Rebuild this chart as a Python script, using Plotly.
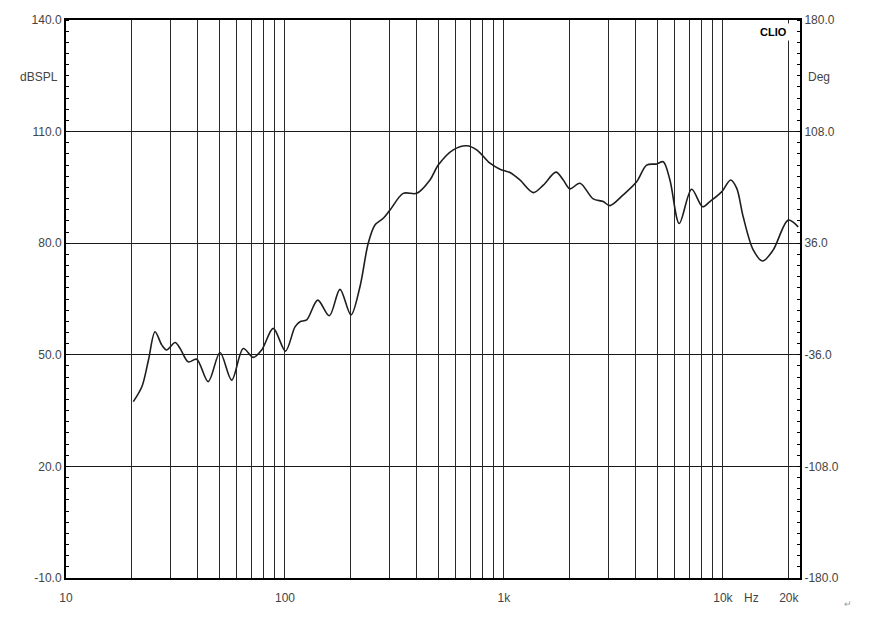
import plotly.graph_objects as go

# Frequency response (Hz, dB SPL)
freq_hz = [20.3, 22.2, 23.8, 25.5, 27.4, 28.8, 31.5, 33.2, 36.2, 39.5,
           44.6, 50.5, 57.1, 64.5, 71.7, 78.3, 88.4, 100.5, 111.1, 117.1,
           125.7, 141.1, 159.4, 178.3, 200.1, 220, 240, 257.6, 281.1, 301.7,
           346.9, 399.4, 459.3, 501, 586.8, 675.6, 750.5, 863.4, 958.7, 1065,
           1183, 1361, 1512, 1728, 1866, 2001, 2223, 2557, 2841, 3048,
           3505, 4035, 4483, 4982, 5339, 5728, 6318, 7196, 8078, 8722,
           9866, 10844, 11554, 12377, 13753, 15184, 16971, 19870, 22070]
spl_db = [37.4, 41.4, 48.6, 56.2, 52.6, 51.3, 53.3, 51.7, 48.1, 48.8,
          42.8, 50.6, 43.2, 51.7, 49.3, 51.3, 57.1, 51.0, 57.5, 58.9,
          59.4, 64.7, 60.5, 67.6, 60.7, 68.3, 80.0, 84.9, 86.7, 88.9,
          93.4, 93.4, 97.0, 101.0, 105.1, 106.2, 105.1, 101.5, 99.9, 99.0,
          97.0, 93.6, 95.6, 99.1, 97.0, 94.6, 96.1, 91.9, 91.2, 90.1,
          93.0, 96.5, 101.0, 101.3, 101.9, 97.0, 85.3, 94.5, 89.8, 91.2,
          93.8, 97.0, 94.8, 87.1, 78.2, 75.2, 78.2, 86.2, 84.4]

# Axis ticks
x_grid = [20, 30, 40, 50, 60, 70, 80, 90, 100, 200, 300, 400, 500, 600, 700, 800, 900,
          1000, 2000, 3000, 4000, 5000, 6000, 7000, 8000, 9000, 10000, 20000]
x_label_vals = [10, 100, 1000, 10000, 20000]
x_label_text = ["10", "100", "1k", "10k", "20k"]
y_left_vals = [-10, 20, 50, 80, 110, 140]
y_left_text = ["-10.0", "20.0", "50.0", "80.0", "110.0", "140.0"]
y_right_vals = [-180, -108, -36, 36, 108, 180]
y_right_text = ["-180.0", "-108.0", "-36.0", "36.0", "108.0", "180.0"]

FONT = "Liberation Sans, Arial, sans-serif"
LBL = "#444444"

fig = go.Figure()

fig.add_trace(go.Scatter(
    x=freq_hz, y=spl_db, mode="lines",
    line=dict(color="#1e1e1e", width=1.6, shape="spline", smoothing=0.9),
    hoverinfo="skip", showlegend=False, xaxis="x", yaxis="y"))

# invisible helpers to activate the right axis and the grid axis
fig.add_trace(go.Scatter(x=[20], y=[0], mode="markers", marker=dict(opacity=0),
                         showlegend=False, hoverinfo="skip", xaxis="x", yaxis="y2"))
fig.add_trace(go.Scatter(x=[20], y=[0], mode="markers", marker=dict(opacity=0),
                         showlegend=False, hoverinfo="skip", xaxis="x2", yaxis="y"))

XR = [1, 4.352]

fig.update_layout(
    width=880, height=620,
    margin=dict(l=58, r=88, t=12, b=50, autoexpand=False),
    paper_bgcolor="white", plot_bgcolor="white",
    font=dict(family=FONT, size=12, color=LBL),
    xaxis=dict(
        type="log", range=XR, automargin=False,
        tickvals=x_label_vals, ticktext=x_label_text,
        ticks="", showgrid=False, zeroline=False, ticklabelstandoff=8,
        showline=True, linecolor="black", linewidth=2, mirror=True,
        tickfont=dict(family=FONT, size=12, color=LBL),
    ),
    xaxis2=dict(
        type="log", range=XR, overlaying="x", automargin=False,
        tickvals=x_grid, showticklabels=False, ticks="",
        showgrid=True, gridcolor="#2a2a2a", gridwidth=1, zeroline=False,
        layer="below traces",
    ),
    yaxis=dict(
        range=[-10, 140], tickvals=y_left_vals, ticktext=y_left_text,
        automargin=False,
        ticks="", showgrid=True, gridcolor="#1a1a1a", gridwidth=1, zeroline=False,
        showline=True, linecolor="black", linewidth=2, mirror=True,
        minor=dict(dtick=3, tick0=-10, ticks="inside", ticklen=3,
                   tickcolor="black", tickwidth=1, showgrid=False),
        tickfont=dict(family=FONT, size=12, color=LBL),
    ),
    yaxis2=dict(
        range=[-180, 180], overlaying="y", side="right", automargin=False,
        tickvals=y_right_vals, ticktext=y_right_text,
        ticks="", showgrid=False, zeroline=False,
        showline=True, linecolor="black", linewidth=2,
        minor=dict(dtick=7.2, tick0=-180, ticks="inside", ticklen=3,
                   tickcolor="black", tickwidth=1, showgrid=False),
        tickfont=dict(family=FONT, size=12, color=LBL),
    ),
)

fig.add_annotation(text="dBSPL", xref="paper", yref="paper", x=-0.008, y=0.898,
                   xanchor="right", yanchor="middle", showarrow=False,
                   font=dict(family=FONT, size=12, color=LBL))
fig.add_annotation(text="Deg", xref="paper", yref="paper", x=1.008, y=0.898,
                   xanchor="left", yanchor="middle", showarrow=False,
                   font=dict(family=FONT, size=12, color=LBL))
fig.add_annotation(text="<b>CLIO</b>", xref="paper", yref="paper", x=0.987, y=0.994,
                   xanchor="right", yanchor="top", showarrow=False,
                   bgcolor="white", borderpad=2,
                   font=dict(family=FONT, size=11, color="black"))
fig.add_annotation(text="Hz", xref="paper", yref="paper", x=0.9346, y=-0.0358,
                   xanchor="center", yanchor="middle", showarrow=False,
                   font=dict(family=FONT, size=12, color=LBL))
fig.add_annotation(text="\u21b5", xref="paper", yref="paper", x=1.065, y=-0.0466,
                   xanchor="center", yanchor="middle", showarrow=False,
                   font=dict(family=FONT, size=9, color="#999999"))

fig.write_html("out.html")
